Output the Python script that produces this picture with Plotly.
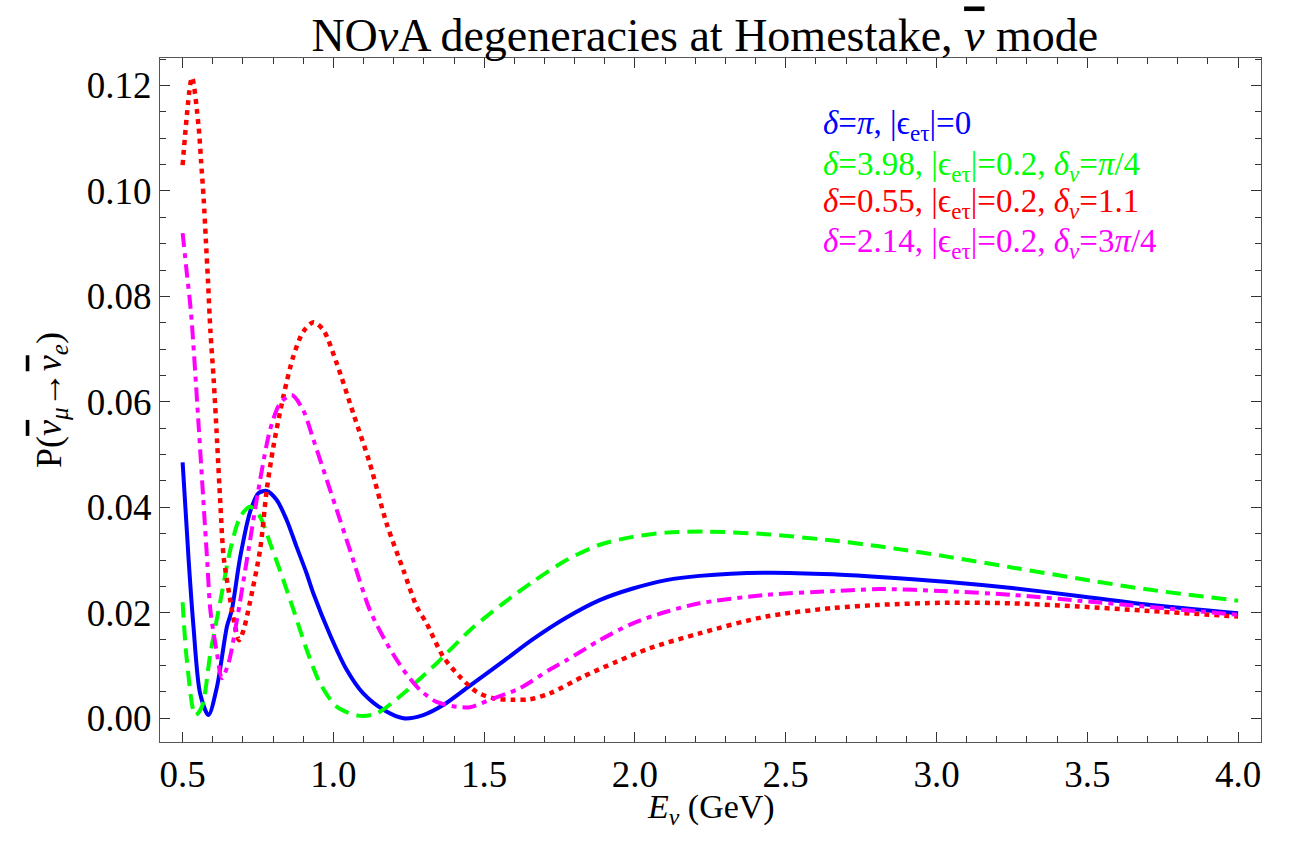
import plotly.graph_objects as go

# Appearance probability P(anti-nu_mu -> anti-nu_e) vs neutrino energy (GeV)
E_std = [0.50, 0.52, 0.536, 0.558, 0.586, 0.614, 0.647, 0.663, 0.691, 0.724, 0.752, 0.779,
         0.812, 0.845, 0.878, 0.911, 0.934, 0.989, 1.044, 1.099, 1.166, 1.232, 1.298, 1.364,
         1.453, 1.563, 1.662, 1.773, 1.883, 1.993, 2.104, 2.214, 2.435, 2.656, 2.81, 3.03,
         3.25, 3.47, 3.69, 4.00]
P_std = [0.0485, 0.0300, 0.0174, 0.0047, 0.0006, 0.0060, 0.0174, 0.0205, 0.0306, 0.0392,
         0.0427, 0.0431, 0.0414, 0.0376, 0.0325, 0.0275, 0.0236, 0.0158, 0.0092, 0.0047,
         0.0016, 0.0000, 0.0006, 0.0025, 0.0062, 0.0108, 0.0150, 0.0191, 0.0224, 0.0246,
         0.0262, 0.0270, 0.0276, 0.0273, 0.0268, 0.0259, 0.0247, 0.0232, 0.0216, 0.0199]

E_nsi1 = [0.50, 0.514, 0.542, 0.564, 0.592, 0.625, 0.658, 0.691, 0.724, 0.757, 0.790, 0.823,
          0.868, 0.912, 0.956, 1.011, 1.083, 1.143, 1.232, 1.342, 1.453, 1.563, 1.662, 1.773,
          1.883, 1.993, 2.104, 2.236, 2.435, 2.656, 2.81, 3.03, 3.25, 3.47, 3.69, 4.00]
P_nsi1 = [0.0220, 0.0110, 0.0006, 0.0022, 0.0123, 0.0222, 0.0319, 0.0382, 0.0401, 0.0382,
          0.0332, 0.0280, 0.0205, 0.0129, 0.0066, 0.0022, 0.0005, 0.0009, 0.0047, 0.0104,
          0.0167, 0.0218, 0.0259, 0.0300, 0.0329, 0.0344, 0.0352, 0.0354, 0.0349, 0.0337,
          0.0326, 0.0307, 0.0286, 0.0265, 0.0245, 0.0223]

E_nsi2 = [0.50, 0.531, 0.553, 0.561, 0.570, 0.577, 0.584, 0.592, 0.603, 0.614, 0.625, 0.636,
          0.658, 0.674, 0.687, 0.702, 0.724, 0.757, 0.779, 0.801, 0.834, 0.867, 0.900, 0.934,
          0.967, 1.011, 1.066, 1.121, 1.176, 1.232, 1.276, 1.309, 1.364, 1.419, 1.475, 1.530,
          1.596, 1.651, 1.717, 1.828, 1.938, 2.050, 2.214, 2.435, 2.656, 2.81, 3.03, 3.25,
          3.47, 3.69, 4.00]
P_nsi2 = [0.1049, 0.1215, 0.1122, 0.1058, 0.0983, 0.0907, 0.0831, 0.0736, 0.0642, 0.0528,
          0.0408, 0.0306, 0.0224, 0.0174, 0.0148, 0.0167, 0.0222, 0.0320, 0.0433, 0.0515,
          0.0610, 0.0686, 0.0733, 0.0751, 0.0736, 0.0673, 0.0578, 0.0483, 0.0370, 0.0281,
          0.0212, 0.0180, 0.0117, 0.0079, 0.0050, 0.0038, 0.0035, 0.0036, 0.0047, 0.0079,
          0.0107, 0.0133, 0.0161, 0.0193, 0.0209, 0.0215, 0.0219, 0.0218, 0.0212, 0.0204,
          0.0193]

E_nsi3 = [0.50, 0.514, 0.528, 0.554, 0.568, 0.582, 0.592, 0.614, 0.630, 0.652, 0.680, 0.713,
          0.757, 0.790, 0.823, 0.862, 0.900, 0.934, 0.967, 1.011, 1.055, 1.121, 1.177, 1.232,
          1.287, 1.342, 1.408, 1.453, 1.519, 1.618, 1.717, 1.773, 1.883, 1.993, 2.104, 2.214,
          2.435, 2.656, 2.81, 3.03, 3.25, 3.47, 3.69, 4.00]
P_nsi3 = [0.0920, 0.0844, 0.0768, 0.0547, 0.0420, 0.0294, 0.0205, 0.0123, 0.0076, 0.0104,
          0.0186, 0.0300, 0.0452, 0.0547, 0.0597, 0.0613, 0.0584, 0.0528, 0.0471, 0.0395,
          0.0319, 0.0205, 0.0142, 0.0092, 0.0054, 0.0031, 0.0022, 0.0021, 0.0035, 0.0057,
          0.0092, 0.0110, 0.0148, 0.0180, 0.0202, 0.0218, 0.0234, 0.0241, 0.0245, 0.0241,
          0.0234, 0.0223, 0.0212, 0.0196]

OV = "<span style='text-decoration:overline'>"
labels = [
    "<i>δ</i>=<i>π</i>, |ϵ<sub>eτ</sub>|=0",
    "<i>δ</i>=3.98, |ϵ<sub>eτ</sub>|=0.2, <i>δ</i><sub><i>ν</i></sub>=<i>π</i>/4",
    "<i>δ</i>=0.55, |ϵ<sub>eτ</sub>|=0.2, <i>δ</i><sub><i>ν</i></sub>=1.1",
    "<i>δ</i>=2.14, |ϵ<sub>eτ</sub>|=0.2, <i>δ</i><sub><i>ν</i></sub>=3<i>π</i>/4",
]
colors = ["#0000FF", "#00FF00", "#FF0000", "#FF00FF"]
dashes = ["solid", "15px,8px", "5px,5px", "14px,6px,5px,6px"]
widths = [4, 4, 4.5, 4]
label_y = [0.9006, 0.842, 0.7866, 0.7295]

FONT = "Liberation Serif, Times New Roman, serif"

fig = go.Figure()
series = [(E_std, P_std), (E_nsi1, P_nsi1), (E_nsi2, P_nsi2), (E_nsi3, P_nsi3)]
for (ex, py), col, dsh, w in zip(series, colors, dashes, widths):
    fig.add_trace(go.Scatter(
        x=ex, y=py, mode="lines",
        line=dict(color=col, width=w, dash=dsh, shape="spline", smoothing=0.8),
        showlegend=False, hoverinfo="skip"))

for txt, col, yy in zip(labels, colors, label_y):
    fig.add_annotation(text=txt, xref="paper", yref="paper", x=0.600, y=yy,
                       xanchor="left", yanchor="middle", showarrow=False,
                       font=dict(family=FONT, size=33, color=col))

# x-axis title placed beneath the tick labels
fig.add_annotation(text="<i>E</i><sub><i>ν</i></sub> (GeV)", xref="paper", yref="paper",
                   x=0.5, y=-0.098, xanchor="center", yanchor="middle", showarrow=False,
                   font=dict(family=FONT, size=34, color="black"))

axis_common = dict(
    showline=True, linecolor="#555555", linewidth=1, mirror="allticks",
    ticks="inside", ticklen=10, tickwidth=1, tickcolor="#333333",
    showgrid=False, zeroline=False,
    tickfont=dict(family=FONT, size=37, color="black"),
)

fig.update_layout(
    width=1298, height=842,
    margin=dict(l=160, r=37, t=58, b=100),
    paper_bgcolor="white", plot_bgcolor="white",
    title=dict(text=f"NO<i>ν</i>A degeneracies at Homestake, {OV}<i>ν</i></span> mode",
               x=0.543, xanchor="center", y=0.958, yanchor="middle",
               font=dict(family=FONT, size=46, color="black")),
    xaxis=dict(range=[0.425, 4.076], tick0=0.5, dtick=0.5, tickformat=".1f",
               minor=dict(dtick=0.1, tick0=0.5, ticklen=6, ticks="inside",
                          tickcolor="#333333", tickwidth=1),
               **axis_common),
    yaxis=dict(range=[-0.0045, 0.1252], tick0=0, dtick=0.02, tickformat=".2f",
               minor=dict(dtick=0.005, tick0=0, ticklen=6, ticks="inside",
                          tickcolor="#333333", tickwidth=1),
               title=dict(text=f"P({OV}<i>ν</i></span><sub><i>μ</i></sub>→{OV}<i>ν</i></span><sub><i>e</i></sub>)",
                          standoff=14, font=dict(family=FONT, size=36, color="black")),
               **axis_common),
)

fig.write_html("out.html")
